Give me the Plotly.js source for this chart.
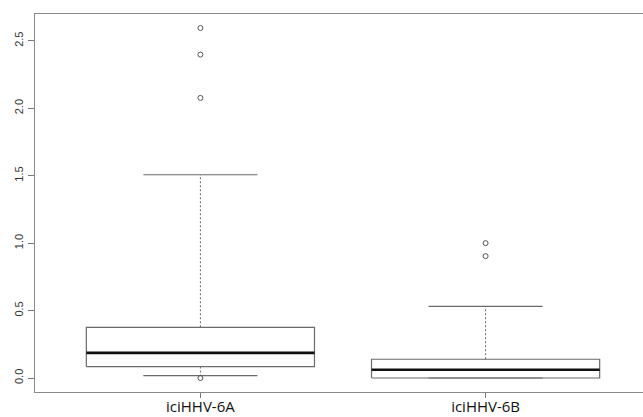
<!DOCTYPE html>
<html>
<head>
<meta charset="utf-8">
<script src="https://cdn.plot.ly/plotly-3.0.1.min.js"></script>
<style>
html,body{margin:0;padding:0;overflow:hidden;background:#fff;}
#chart{width:660px;height:417px;}
</style>
</head>
<body>
<div id="chart"></div>
<script>
// ---- data ----
const categories = ['iciHHV-6A', 'iciHHV-6B'];
const lowerWhisker = [0.018, 0.0];
const q1 = [0.085, 0.0];
const medians = [0.186, 0.061];
const q3 = [0.376, 0.139];
const upperWhisker = [1.507, 0.531];
const outliersA = [2.595, 2.398, 2.077, 0.0];
const outliersB = [1.0, 0.904];
const yTicks = [0, 0.5, 1.0, 1.5, 2.0, 2.5];

// ---- styling ----
const BOXW = 0.4;   // half box width (R default width 0.8)
const CAPW = 0.2;   // half cap width
const thin = '#6a6a6a';

const boxX = [], boxY = [], capX = [], capY = [], whX = [], whY = [], medX = [], medY = [];
categories.forEach((c, i) => {
  const x = i + 1;
  boxX.push(x - BOXW, x + BOXW, x + BOXW, x - BOXW, x - BOXW, null);
  boxY.push(q1[i], q1[i], q3[i], q3[i], q1[i], null);
  capX.push(x - CAPW, x + CAPW, null, x - CAPW, x + CAPW, null);
  capY.push(lowerWhisker[i], lowerWhisker[i], null, upperWhisker[i], upperWhisker[i], null);
  whX.push(x, x, null, x, x, null);
  whY.push(q3[i], upperWhisker[i], null, q1[i], lowerWhisker[i], null);
  medX.push(x - BOXW, x + BOXW, null);
  medY.push(medians[i], medians[i], null);
});

const outX = [], outY = [];
[outliersA, outliersB].forEach((arr, i) => arr.forEach(v => { outX.push(i + 1); outY.push(v); }));

const traces = [
  {x: whX, y: whY, mode: 'lines', line: {color: thin, width: 1, dash: '2px,2px'}, hoverinfo: 'skip'},
  {x: capX, y: capY, mode: 'lines', line: {color: thin, width: 1.2}, hoverinfo: 'skip'},
  {x: boxX, y: boxY, mode: 'lines', line: {color: thin, width: 1.2}, hoverinfo: 'skip'},
  {x: medX, y: medY, mode: 'lines', line: {color: '#111', width: 2.6}, hoverinfo: 'skip'},
  {x: outX, y: outY, mode: 'markers', marker: {symbol: 'circle-open', size: 5, color: '#555', line: {width: 1, color: '#555'}}, hoverinfo: 'skip'}
];

const layout = {
  width: 660, height: 417,
  margin: {l: 35, r: 9, t: 14, b: 25},
  showlegend: false,
  paper_bgcolor: '#fff', plot_bgcolor: '#fff',
  xaxis: {
    range: [0.42, 2.58], tickmode: 'array', tickvals: categories.map((c, i) => i + 1), ticktext: categories,
    showgrid: false, zeroline: false, showline: true, mirror: true, linecolor: '#8a8a8a', linewidth: 1.2,
    ticks: 'outside', ticklen: 5, tickcolor: '#777', tickwidth: 1, ticklabelstandoff: -4,
    tickfont: {family: 'Open Sans', size: 15, color: '#111'}
  },
  yaxis: {
    range: [-0.1038, 2.699], tickmode: 'array', tickvals: yTicks, ticktext: yTicks.map(v => v.toFixed(1)),
    showgrid: false, zeroline: false, showline: true, mirror: true, linecolor: '#8a8a8a', linewidth: 1.2,
    ticks: 'outside', ticklen: 6, tickcolor: '#777', tickwidth: 1, tickangle: -90,
    tickfont: {family: 'Liberation Sans', size: 11, color: '#333'}
  }
};

Plotly.newPlot('chart', traces, layout, {displayModeBar: false, staticPlot: true});
</script>
</body>
</html>
